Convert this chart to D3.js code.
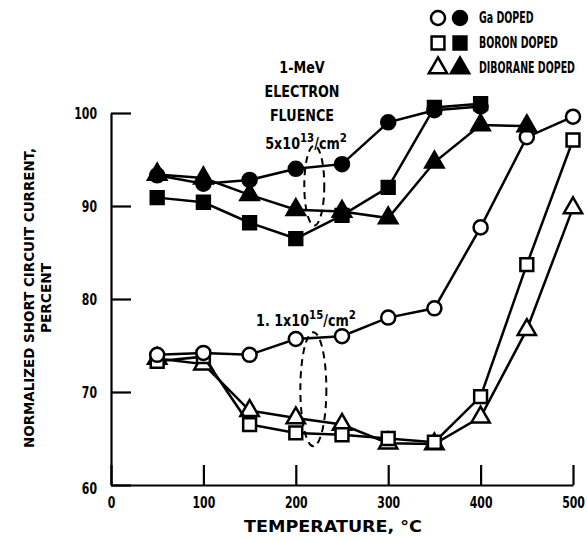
<!DOCTYPE html>
<meta charset="utf-8"/>
<title>Short circuit current vs annealing temperature</title>
<style>
    body { margin: 0; background: #fff; }
    text {
        font-family: "DejaVu Sans", sans-serif;
        font-weight: bold;
        fill: #000;
    }
    .line { fill: none; stroke: #000; stroke-width: 2.5px; }
    .dash { fill: none; stroke: #000; stroke-width: 2px; stroke-dasharray: 7 5; }
</style>
<script src="https://cdn.jsdelivr.net/npm/d3@7"></script>
<svg id="chart" width="587" height="541"></svg>
<script>
"use strict";

// temperatures, deg C
const tempsHigh = [50, 100, 150, 200, 250, 300, 350, 400];
const tempsHighDib = [50, 100, 150, 200, 250, 300, 350, 400, 450];
const tempsLow = [50, 100, 150, 200, 250, 300, 350, 400, 450, 500];

// 5x10^13 /cm^2 (filled symbols)
const gaHigh = [93.3, 92.4, 92.8, 94.0, 94.5, 99.0, 100.3, 100.7];
const boronHigh = [90.9, 90.4, 88.2, 86.5, 89.0, 92.0, 100.6, 101.0];
const diboraneHigh = [93.4, 93.0, 91.2, 89.6, 89.4, 88.7, 94.7, 98.7, 98.6];

// 1.1x10^15 /cm^2 (open symbols)
const gaLow = [74.0, 74.2, 74.0, 75.7, 76.0, 78.0, 79.0, 87.7, 97.4, 99.6];
const boronLow = [73.3, 73.8, 66.5, 65.6, 65.4, 65.0, 64.6, 69.5, 83.7, 97.1];
const diboraneLow = [73.6, 73.0, 68.0, 67.2, 66.5, 64.5, 64.4, 67.3, 76.7, 89.8];

const xTicks = [0, 100, 200, 300, 400, 500];
const yTicks = [60, 70, 80, 90, 100];
const legendLabels = ["Ga DOPED", "BORON DOPED", "DIBORANE DOPED"];

const svg = d3.select("#chart");
const x = d3.scaleLinear().domain([0, 500]).range([111, 573]);
const y = d3.scaleLinear().domain([60, 100]).range([485, 113]);

// squeeze a text horizontally (the original uses a very narrow bold face)
function condense(sel, factor)
{
    sel.each(function ()
    {
        const len = this.getComputedTextLength();
        d3.select(this)
            .attr("textLength", len * factor)
            .attr("lengthAdjust", "spacingAndGlyphs");
    });
}

// axes
const yAxis = svg.append("g")
    .attr("transform", "translate(111,0)")
    .call(d3.axisLeft(y).tickValues(yTicks).tickSize(-20).tickSizeOuter(0).tickPadding(14));
const xAxis = svg.append("g")
    .attr("transform", "translate(0,485)")
    .call(d3.axisBottom(x).tickValues(xTicks).tickSize(-20).tickSizeOuter(0).tickPadding(12));
[xAxis, yAxis].forEach(function (g)
{
    g.selectAll("path, line").attr("stroke", "#000").attr("stroke-width", 2.2);
    g.selectAll("text").style("font-size", "16px").attr("font-family", null);
    condense(g.selectAll("text"), 0.68);
});
yAxis.selectAll("text").attr("dy", "0.35em");
yAxis.selectAll(".tick").filter(function (d) { return d === 60; }).select("text").attr("dy", "0.55em");

svg.append("text")
    .attr("x", 333).attr("y", 532)
    .attr("text-anchor", "middle")
    .style("font-size", "16px")
    .attr("textLength", 178)
    .attr("lengthAdjust", "spacingAndGlyphs")
    .text("TEMPERATURE, \u00B0C");

const yl = svg.append("text")
    .attr("transform", "translate(34,298) rotate(-90)")
    .attr("text-anchor", "middle")
    .style("font-size", "14px");
yl.append("tspan").attr("x", 0).attr("dy", 0)
    .attr("textLength", 300).attr("lengthAdjust", "spacingAndGlyphs")
    .text("NORMALIZED SHORT CIRCUIT CURRENT,");
yl.append("tspan").attr("x", 0).attr("dy", 17)
    .attr("textLength", 70).attr("lengthAdjust", "spacingAndGlyphs")
    .text("PERCENT");

// symbols
const symbols = [d3.symbolCircle, d3.symbolSquare, d3.symbolTriangle];
const sizes = [155, 165, 145];

function drawSeries(temps, values, kind, filled)
{
    const data = temps.map(function (t, i) { return [t, values[i]]; });
    svg.append("path")
        .attr("class", "line")
        .attr("d", d3.line().x(function (d) { return x(d[0]); }).y(function (d) { return y(d[1]); })(data));
    svg.append("g").selectAll("path")
        .data(data)
        .enter()
        .append("path")
        .attr("transform", function (d) { return "translate(" + x(d[0]) + "," + y(d[1]) + ")"; })
        .attr("d", d3.symbol().type(symbols[kind]).size(sizes[kind]))
        .attr("fill", filled ? "#000" : "#fff")
        .attr("stroke", "#000")
        .attr("stroke-width", 2.5);
}

drawSeries(tempsLow, diboraneLow, 2, false);
drawSeries(tempsLow, boronLow, 1, false);
drawSeries(tempsLow, gaLow, 0, false);
drawSeries(tempsHighDib, diboraneHigh, 2, true);
drawSeries(tempsHigh, boronHigh, 1, true);
drawSeries(tempsHigh, gaHigh, 0, true);

// fluence annotations
svg.append("ellipse").attr("class", "dash")
    .attr("cx", x(220)).attr("cy", y(92.2)).attr("rx", 10).attr("ry", 40);
svg.append("ellipse").attr("class", "dash")
    .attr("cx", x(219)).attr("cy", y(70.3)).attr("rx", 13).attr("ry", 57);

const ann = svg.append("text")
    .attr("text-anchor", "middle")
    .style("font-size", "15px");
ann.append("tspan").attr("x", 302).attr("y", 73).text("1-MeV");
ann.append("tspan").attr("x", 302).attr("y", 97).text("ELECTRON");
ann.append("tspan").attr("x", 302).attr("y", 121).text("FLUENCE");
condense(ann.selectAll("tspan"), 0.85);

function fluence(xPos, yPos, mant, exp)
{
    const t = svg.append("text")
        .attr("x", xPos).attr("y", yPos)
        .attr("text-anchor", "middle")
        .style("font-size", "15px");
    t.append("tspan").text(mant + "x10");
    t.append("tspan").attr("dy", -7).style("font-size", "12px").text(exp);
    t.append("tspan").attr("dy", 7).text("/cm");
    t.append("tspan").attr("dy", -7).style("font-size", "12px").text("2");
    condense(t.selectAll("tspan"), 0.85);
}
fluence(306, 149, "5", "13");
fluence(306, 326, "1. 1", "15");

// legend
legendLabels.forEach(function (label, i)
{
    const ly = 18 + i * 25;
    [false, true].forEach(function (filled, j)
    {
        svg.append("path")
            .attr("transform", "translate(" + (438 + j * 22) + "," + ly + ")")
            .attr("d", d3.symbol().type(symbols[i]).size(sizes[i]))
            .attr("fill", filled ? "#000" : "#fff")
            .attr("stroke", "#000")
            .attr("stroke-width", 2.5);
    });
    const t = svg.append("text")
        .attr("x", 479).attr("y", ly).attr("dy", "0.35em")
        .style("font-size", "15px")
        .text(label);
    condense(t, 0.63);
});
</script>
